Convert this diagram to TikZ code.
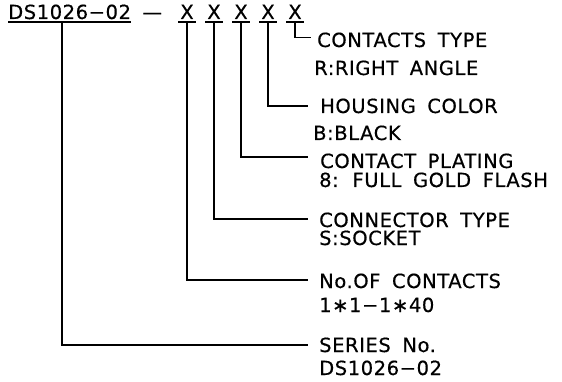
\documentclass[tikz,border=0pt]{standalone}
\usepackage{fontspec}
\setmainfont{DejaVu Sans}[WordSpace=1.7,LetterSpace=3,FakeBold=0.5]
\usetikzlibrary{positioning}

\tikzset{
	txt/.style={inner sep=0pt, font=\fontsize{19.5}{22}\selectfont},
	lbl/.style={txt, anchor=base west},
	code/.style={txt, anchor=base},
	lead/.style={line width=1.2pt},
	uline/.style={line width=1.3pt},
}

\begin{document}
\begin{tikzpicture}[x=1pt, y=-1pt]
	\useasboundingbox (0,0) rectangle (562,382);

	\node[lbl] (ser) at (8,19) {DS1026−02};
	\node[lbl, right=11pt of ser.base east, anchor=base west] (sep) {—};
	\node[code] (x1) at (187,19) {X};
	\node[code, right=27pt of x1.base, anchor=base] (x2) {X};
	\node[code, right=27pt of x2.base, anchor=base] (x3) {X};
	\node[code, right=27pt of x3.base, anchor=base] (x4) {X};
	\node[code, right=27pt of x4.base, anchor=base] (x5) {X};
	\coordinate[below right=3pt and 54pt of ser.base west] (tap);

	\draw[uline] ([yshift=-3pt]ser.base west) -- ([yshift=-3pt]ser.base east);
	\foreach \n in {x1,x2,x3,x4,x5}
		\draw[uline] ([xshift=-9pt,yshift=-3pt]\n.base) -- ([xshift=9pt,yshift=-3pt]\n.base);

	\node[lbl] (typ) at (317,47) {CONTACTS TYPE};
	\node[lbl, below left=28pt and 3pt of typ.base west, anchor=base west] (typv) {R:RIGHT ANGLE};
	\node[lbl] (col) at (320,113) {HOUSING COLOR};
	\node[lbl, below left=27pt and 7pt of col.base west, anchor=base west] (colv) {B:BLACK};
	\node[lbl] (plt) at (320,168) {CONTACT PLATING};
	\node[lbl, below left=19pt and 1pt of plt.base west, anchor=base west] (pltv) {8: FULL GOLD FLASH};
	\node[lbl] (con) at (319,227) {CONNECTOR TYPE};
	\node[lbl, below=18pt of con.base west, anchor=base west] (conv) {S:SOCKET};
	\node[lbl] (noc) at (319,288) {No.OF CONTACTS};
	\node[lbl, below=24pt of noc.base west, anchor=base west] (nocv) {1∗1−1∗40};
	\node[lbl] (srs) at (319,352) {SERIES No.};
	\node[lbl, below=23pt of srs.base west, anchor=base west] (srsv) {DS1026−02};

	\draw[lead] ([yshift=-3pt]x5.base) |- ([xshift=-6pt,yshift=2pt]typ.west);
	\draw[lead] ([yshift=-3pt]x4.base) |- ([xshift=-12pt]col.west);
	\draw[lead] ([yshift=-3pt]x3.base) |- ([xshift=-12pt,yshift=4pt]plt.west);
	\draw[lead] ([yshift=-3pt]x2.base) |- ([xshift=-11pt,yshift=1pt]con.west);
	\draw[lead] ([yshift=-3pt]x1.base) |- ([xshift=-11pt,yshift=1pt]noc.west);
	\draw[lead] (tap) |- ([xshift=-11pt]srs.west);
\end{tikzpicture}
\end{document}
